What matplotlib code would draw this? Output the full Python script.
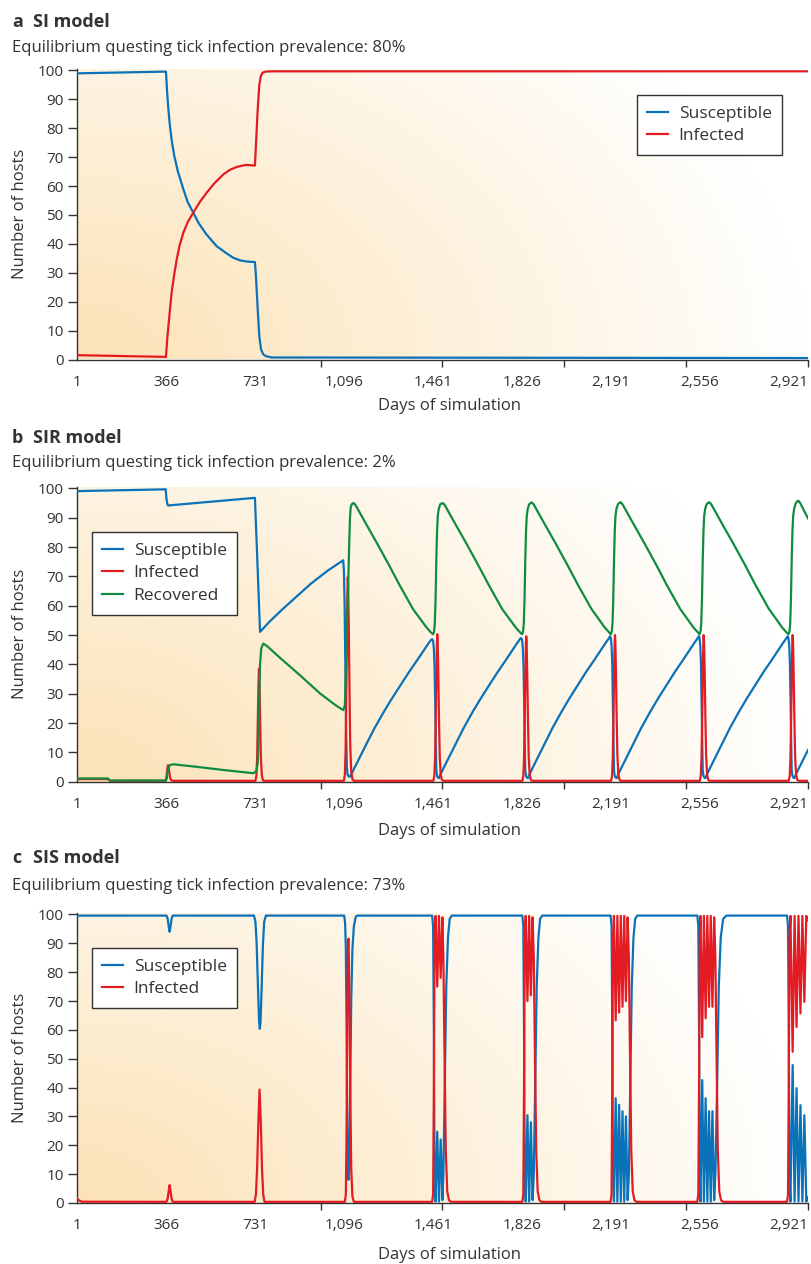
import numpy as np
import matplotlib
matplotlib.use('Agg')
import matplotlib.pyplot as plt

plt.rcParams['font.family'] = ['Open Sans', 'DejaVu Sans']

W, H = 812, 1264
TXT = '#333333'
BLUE = '#0a72b8'
RED = '#e31b23'
GREEN = '#0f8c3f'

# --------------------------- x axis ---------------------------
day_ticks = [1, 366, 731, 1096, 1461, 1826, 2191, 2556, 2921]
day_labels = ['1', '366', '731', '1,096', '1,461', '1,826', '2,191', '2,556', '2,921']
mark_ticks = [1, 1000, 1500, 2000, 2500, 3000]

# --------------------------- a: SI model ---------------------------
si_sus_day = [1, 366, 371, 376, 382, 390, 400, 415, 437, 455, 478, 500, 530, 574, 610,
              642, 670, 697, 731, 735, 742, 749, 756, 765, 775, 800, 3000]
si_sus_val = [99.0, 99.6, 92.2, 86.5, 81, 75.5, 70.5, 65, 59, 54.5, 50.8, 47.2, 43.5, 39.2, 37,
              35.2, 34.3, 33.9, 33.7, 29, 18, 8, 3.5, 1.8, 1.2, 0.7, 0.5]
si_inf_day = [1, 366, 369, 372, 376, 382, 389, 400, 410, 422, 437, 455, 478, 505, 533, 565,
              601, 630, 656, 680, 697, 731, 735, 742, 749, 755, 762, 775, 800, 3000]
si_inf_val = [1.5, 0.9, 4.5, 8, 11.5, 17, 23, 29.5, 34.6, 39.5, 43.8, 47.5, 50.8, 54.5, 57.7, 61,
              64, 65.7, 66.6, 67.1, 67.3, 67.1, 74, 86, 95, 98, 99.2, 99.6, 99.7, 99.7]

# --------------------------- b: SIR model ---------------------------
sir_sus_day = [1, 365, 368, 372, 375, 731, 752, 790, 840, 900, 960, 1030, 1093,
               1096, 1099, 1102, 1105, 1108, 1111, 1115, 1120,
               1126, 1135, 1150, 1170, 1188, 1220, 1256, 1290, 1325, 1360, 1393, 1420, 1440, 1453,
               1458, 1462, 1465, 1468, 1471, 1473, 1475, 1478, 1482, 1486,
               1492, 1501, 1516, 1536, 1554, 1586, 1622, 1656, 1691, 1726, 1759, 1786, 1806, 1819,
               1823, 1827, 1830, 1833, 1836, 1838, 1840, 1843, 1847, 1851,
               1857, 1866, 1881, 1901, 1919, 1951, 1987, 2021, 2056, 2091, 2124, 2151, 2171, 2184,
               2188, 2191, 2194, 2197, 2200, 2202, 2204, 2207, 2211, 2215,
               2221, 2230, 2245, 2265, 2283, 2315, 2351, 2385, 2420, 2455, 2488, 2515, 2535, 2548,
               2552, 2555, 2558, 2561, 2564, 2566, 2568, 2571, 2575, 2579,
               2585, 2594, 2609, 2629, 2647, 2679, 2715, 2749, 2784, 2819, 2852, 2879, 2899, 2912,
               2917, 2920, 2923, 2926, 2929, 2931, 2933, 2936, 2940, 2944,
               2950, 2959, 2974, 2994, 3000]
sir_sus_val = [99.1, 99.7, 96.5, 94.6, 94.2, 96.8, 51.1, 54.5, 58.5, 63.0, 67.5, 72.0, 75.5,
               72, 60, 40, 18, 5, 2.5, 1.8, 1.7,
               2.4, 4, 6.5, 9.8, 12.8, 18, 23.3, 28, 32.5, 37, 41, 44.3, 46.8, 48.3,
               48.6, 48, 45.5, 39, 25, 13, 4, 2, 1.4, 1.2,
               2.4, 4, 6.5, 9.8, 12.8, 18.1, 23.5, 28.2, 32.8, 37.3, 41.3, 44.7, 47.2, 48.7,
               49.0, 48.4, 45.8, 39.2, 25, 13, 4, 2, 1.4, 1.2,
               2.4, 4, 6.5, 9.8, 12.8, 18.2, 23.6, 28.4, 33, 37.6, 41.6, 45, 47.5, 49.0,
               49.6, 49, 46.5, 40, 25, 13, 4, 2, 1.4, 1.2,
               2.4, 4, 6.5, 9.8, 12.8, 18.2, 23.6, 28.4, 33, 37.6, 41.6, 45, 47.5, 49.0,
               49.6, 49, 46.5, 40, 25, 13, 4, 2, 1.4, 1.2,
               2.4, 4, 6.5, 9.8, 12.8, 18.2, 23.6, 28.4, 33, 37.6, 41.6, 45, 47.5, 49.0,
               49.6, 49, 46.5, 40, 25, 13, 4, 2, 1.4, 1.2,
               2.4, 4, 6.5, 9.8, 10.8]

sir_inf_day = [1, 128, 136, 365, 368, 371, 374, 376, 379, 383, 388, 395,
               733, 737, 740, 743, 745.5, 747.5, 749.5, 752.5, 755.5, 759.5, 764.5, 770,
               1096, 1100, 1103, 1106, 1109, 1111, 1112, 1113.5, 1116, 1119, 1122, 1126, 1131, 1137,
               1463, 1467, 1470, 1473, 1476, 1478, 1479, 1480.5, 1483, 1486, 1489, 1493, 1498, 1504,
               1828, 1832, 1835, 1838, 1841, 1843, 1844, 1845.5, 1848, 1851, 1854, 1858, 1863, 1869,
               2192, 2196, 2199, 2202, 2205, 2207, 2208, 2209.5, 2212, 2215, 2218, 2222, 2227, 2233,
               2556, 2560, 2563, 2566, 2569, 2571, 2572, 2573.5, 2576, 2579, 2582, 2586, 2591, 2597,
               2921, 2925, 2928, 2931, 2934, 2936, 2937, 2938.5, 2941, 2944, 2947, 2951, 2956, 2962,
               3000]
sir_inf_val = [0.9, 0.9, 0.3, 0.3, 1.5, 4, 5.6, 5.6, 3.5, 1.3, 0.5, 0.3,
               0.3, 2, 8, 22, 33, 38.6, 34, 20, 8, 2, 0.4, 0.3,
               0.3, 2.5, 11, 31, 56, 67, 69.8, 67, 53, 31, 12.5, 3.5, 0.8, 0.3,
               0.3, 2, 8, 22, 40, 48, 50.3, 48, 38, 22, 9, 2.5, 0.6, 0.3,
               0.3, 2, 8, 22, 39.5, 47.5, 49.6, 47.5, 37.5, 22, 9, 2.5, 0.6, 0.3,
               0.3, 2, 8, 22, 40, 48, 50.0, 48, 38, 22, 9, 2.5, 0.6, 0.3,
               0.3, 2, 8, 22, 40, 48, 50.0, 48, 38, 22, 9, 2.5, 0.6, 0.3,
               0.3, 2, 8, 22, 40, 48, 50.0, 48, 38, 22, 9, 2.5, 0.6, 0.3,
               0.3]

sir_rec_day = [1, 128, 136, 366, 369, 372, 376, 382, 392, 400, 500, 600, 724,
               736, 742, 746, 749, 752, 757, 765, 780, 840, 916, 998, 1060, 1093,
               1100, 1105, 1110, 1114, 1118, 1121, 1124, 1128, 1134,
               1138, 1144, 1154, 1169, 1189, 1234, 1284, 1326, 1380, 1435, 1452, 1462,
               1466, 1469, 1472, 1475, 1478, 1481, 1485, 1491, 1500,
               1504, 1510, 1520, 1535, 1555, 1600, 1650, 1692, 1746, 1801, 1818, 1827,
               1831, 1834, 1837, 1840, 1843, 1846, 1850, 1856, 1865,
               1869, 1875, 1885, 1900, 1920, 1965, 2015, 2057, 2111, 2166, 2183, 2191,
               2195, 2198, 2201, 2204, 2207, 2210, 2214, 2220, 2229,
               2233, 2239, 2249, 2264, 2284, 2329, 2379, 2421, 2475, 2530, 2547, 2555,
               2559, 2562, 2565, 2568, 2571, 2574, 2578, 2584, 2593,
               2597, 2603, 2613, 2628, 2648, 2693, 2743, 2785, 2839, 2894, 2911, 2920,
               2924, 2927, 2930, 2933, 2936, 2939, 2943, 2949, 2958,
               2962, 2968, 2978, 2993, 3000]
sir_rec_val = [1.1, 1.1, 0.4, 0.4, 1.2, 3, 4.8, 5.6, 5.9, 5.9, 5.0, 4.0, 2.9,
               3.5, 6, 14, 30, 40, 45.5, 47.1, 46.3, 41.8, 36.3, 30.1, 26.2, 24.4,
               26, 40, 57, 68.7, 82, 90, 93.6, 94.6, 95,
               94.9, 94.3, 92.8, 90.5, 87.6, 81, 73.4, 66.8, 58.8, 52.6, 51, 50.3,
               51.2, 54, 62, 75, 85, 90.5, 93, 94.6, 95,
               94.9, 94.3, 92.8, 90.5, 87.6, 81, 73.4, 66.8, 58.8, 52.6, 51, 50.3,
               51.2, 54, 62, 75, 85, 90.5, 93, 94.6, 95.2,
               95.1, 94.5, 93, 90.7, 87.8, 81.2, 73.6, 67, 59, 52.6, 51, 50.3,
               51.2, 54, 62, 75, 85, 90.5, 93, 94.6, 95.3,
               95.2, 94.6, 93.1, 90.8, 87.9, 81.3, 73.7, 67, 59, 52.6, 51, 50.3,
               51.2, 54, 62, 75, 85, 90.5, 93, 94.6, 95.3,
               95.2, 94.6, 93.1, 90.8, 87.9, 81.3, 73.7, 67, 59, 52.6, 51, 50.3,
               51.2, 54, 62, 75, 85, 90.5, 93, 94.8, 95.8,
               95.7, 95.0, 93.4, 90.9, 89.8]

# --------------------------- c: SIS model ---------------------------
sis_sus_day = [1, 8, 368, 373, 377, 381, 385, 389, 394,
               727, 733, 738, 743, 748, 751, 754, 759, 764, 769, 776,
               1097, 1101, 1104, 1107, 1110, 1113, 1115, 1118, 1122, 1126, 1131, 1137, 1145, 1152,
               1458, 1462, 1465, 1468, 1472, 1479, 1486, 1493, 1500, 1504, 1510, 1516, 1523, 1530, 1539,
               1828, 1832, 1835, 1838, 1842, 1849, 1856, 1863, 1870, 1875, 1881, 1887, 1894, 1901, 1910,
               2190, 2194, 2197, 2200, 2204, 2211, 2218, 2225, 2232, 2239, 2246, 2253, 2260, 2265,
               2271, 2277, 2284, 2291, 2300,
               2546, 2550, 2553, 2556, 2559, 2566, 2573, 2580, 2587, 2594, 2601, 2608, 2615, 2620,
               2627, 2634, 2642, 2652, 2665,
               2914, 2918, 2921, 2924, 2928, 2937, 2945, 2953, 2961, 2969, 2977, 2985, 2993, 3000]
sis_sus_val = [99.3, 99.6, 99.6, 98.5, 96, 94, 96, 98.5, 99.6,
               99.6, 97.5, 90, 76, 63, 60.4, 63, 76, 90, 97.5, 99.6,
               99.6, 97, 88, 60, 25, 9, 8, 14, 40, 70, 88, 96, 99.3, 99.6,
               99.6, 96, 60, 8, 0.5, 24.7, 0.5, 22, 1, 10, 42, 75, 92, 98.5, 99.6,
               99.6, 96, 60, 8, 0.5, 30.4, 0.5, 28, 1, 10, 42, 75, 92, 98.5, 99.6,
               99.6, 96, 60, 8, 0.5, 36.3, 0.5, 34, 0.5, 31.8, 0.5, 30, 1, 10,
               42, 75, 92, 98.5, 99.6,
               99.6, 96, 60, 8, 0.5, 42.6, 0.5, 36.3, 0.5, 31.8, 0.5, 31.8, 1, 10,
               40, 75, 92, 98.5, 99.6,
               99.6, 96, 60, 8, 0.5, 47.8, 0.5, 39.8, 0.5, 33.9, 0.5, 30.4, 0.5, 2]

sis_inf_day = [1, 8, 20, 368, 373, 377, 381, 385, 389, 394,
               730, 735, 740, 745, 750, 755, 760, 765, 770,
               1100, 1104, 1107, 1110, 1113, 1115, 1118, 1122, 1126, 1131, 1137,
               1458, 1462, 1465, 1468, 1472, 1479, 1486, 1493, 1500, 1504, 1509, 1514, 1520, 1527, 1535,
               1828, 1832, 1835, 1838, 1842, 1849, 1856, 1863, 1870, 1875, 1880, 1885, 1891, 1898, 1906,
               2190, 2194, 2197, 2200, 2204, 2211, 2218, 2225, 2232, 2239, 2246, 2253, 2260, 2265,
               2270, 2275, 2281, 2288, 2296,
               2546, 2550, 2553, 2556, 2559, 2566, 2573, 2580, 2587, 2594, 2601, 2608, 2615, 2620,
               2625, 2630, 2636, 2643, 2652,
               2914, 2918, 2921, 2924, 2928, 2937, 2945, 2953, 2961, 2969, 2977, 2985, 2993, 3000]
sis_inf_val = [1.6, 1.0, 0.45, 0.4, 1.5, 4, 6.2, 4, 1.5, 0.4,
               0.4, 3, 12, 28, 39.3, 28, 12, 3, 0.4,
               0.4, 3, 25, 70, 91, 91.6, 75, 40, 12, 2.2, 0.4,
               0.4, 3, 40, 92, 99.5, 75, 99.5, 78, 99, 85, 50, 18, 4, 1, 0.4,
               0.4, 3, 40, 92, 99.5, 70, 99.5, 72, 99, 85, 50, 18, 4, 1, 0.4,
               0.4, 3, 40, 92, 99.5, 63.3, 99.5, 66, 99.5, 68, 99.5, 70, 99, 85,
               50, 18, 4, 1, 0.4,
               0.4, 3, 40, 92, 99.5, 57.5, 99.5, 64, 99.5, 68, 99.5, 68, 99, 85,
               50, 18, 4, 1, 0.4,
               0.4, 3, 40, 92, 99.5, 52.4, 99.5, 61, 99.5, 65.7, 99.5, 69.7, 99.5, 98]

# --------------------------- figure ---------------------------
fig = plt.figure(figsize=(W / 100, H / 100), dpi=100)


def add_panel(top, bottom):
    left, right = 77, 808
    return fig.add_axes([left / W, 1 - bottom / H, (right - left) / W, (bottom - top) / H])


def style_panel(ax):
    # soft orange wash fading to white at the right
    u = np.linspace(0, 1, 400)
    v = np.linspace(1, 0, 160)
    U, V = np.meshgrid(u, v)
    w = np.clip(1 - np.sqrt(U ** 2 + (0.6 * V) ** 2), 0, 1)
    orange = np.array([252, 226, 182]) / 255.
    img = 1 - w[..., None] * (1 - orange)
    ax.imshow(img, extent=[0, 1, 0, 1], transform=ax.transAxes, aspect='auto',
              zorder=0, interpolation='bilinear')
    ax.set_xlim(1, 3000)
    ax.set_ylim(0, 100.5)
    for s in ['top', 'right']:
        ax.spines[s].set_visible(False)
    for s in ['left', 'bottom']:
        ax.spines[s].set_color(TXT)
        ax.spines[s].set_linewidth(1.0)
    ax.set_yticks(range(0, 101, 10))
    ax.set_xticks(day_ticks)
    ax.set_xticklabels(day_labels)
    ax.set_xticks(mark_ticks, minor=True)
    ax.tick_params(axis='y', length=6.5, width=1, color=TXT, labelcolor=TXT,
                   labelsize=11, pad=3)
    ax.tick_params(axis='x', which='major', length=0, labelcolor=TXT, labelsize=11, pad=11)
    ax.tick_params(axis='x', which='minor', length=5, width=1, color=TXT)


def legend(ax, anchor):
    lg = ax.legend(loc='upper left', bbox_to_anchor=anchor, borderaxespad=0,
                   fontsize=12.5, frameon=True, fancybox=False, framealpha=1,
                   edgecolor=TXT, handlelength=1.2, handletextpad=0.6,
                   borderpad=0.6, labelspacing=0.38)
    lg.get_frame().set_linewidth(1.0)
    for t in lg.get_texts():
        t.set_color(TXT)


def headings(letter, name, sub, y_title, y_sub):
    fig.text(12 / W, 1 - y_title / H, letter, fontsize=13, fontweight='bold', color=TXT, va='baseline')
    fig.text(33 / W, 1 - y_title / H, name, fontsize=13, fontweight='bold', color=TXT, va='baseline')
    fig.text(12 / W, 1 - y_sub / H, sub, fontsize=12, color=TXT, va='baseline')


def axis_labels(top, bottom, y_xlabel):
    fig.text(450 / W, 1 - y_xlabel / H, 'Days of simulation', fontsize=12, color=TXT,
             ha='center', va='baseline')
    fig.text(20 / W, 1 - (top + bottom) / 2 / H, 'Number of hosts', fontsize=12, color=TXT,
             ha='center', va='center', rotation=90)


lw = 1.6

# a
ax1 = add_panel(69, 359.5)
style_panel(ax1)
ax1.plot(si_sus_day, si_sus_val, color=BLUE, lw=lw, label='Susceptible', zorder=3)
ax1.plot(si_inf_day, si_inf_val, color=RED, lw=lw, label='Infected', zorder=3)
legend(ax1, (0.766, 0.91))
headings('a', 'SI model', 'Equilibrium questing tick infection prevalence: 80%', 27, 52)
axis_labels(69, 359.5, 410)

# b
ax2 = add_panel(487, 781.7)
style_panel(ax2)
ax2.plot(sir_sus_day, sir_sus_val, color=BLUE, lw=lw, label='Susceptible', zorder=3)
ax2.plot(sir_inf_day, sir_inf_val, color=RED, lw=lw, label='Infected', zorder=3)
ax2.plot(sir_rec_day, sir_rec_val, color=GREEN, lw=lw, label='Recovered', zorder=3)
legend(ax2, (0.0205, 0.847))
headings('b', 'SIR model', 'Equilibrium questing tick infection prevalence: 2%', 443, 467)
axis_labels(487, 781.7, 835)

# c
ax3 = add_panel(913, 1203)
style_panel(ax3)
ax3.plot(sis_sus_day, sis_sus_val, color=BLUE, lw=lw, label='Susceptible', zorder=3)
ax3.plot(sis_inf_day, sis_inf_val, color=RED, lw=lw, label='Infected', zorder=3)
legend(ax3, (0.0205, 0.879))
headings('c', 'SIS model', 'Equilibrium questing tick infection prevalence: 73%', 863, 890)
axis_labels(913, 1203, 1259)

fig.savefig('out.png', dpi=100)
